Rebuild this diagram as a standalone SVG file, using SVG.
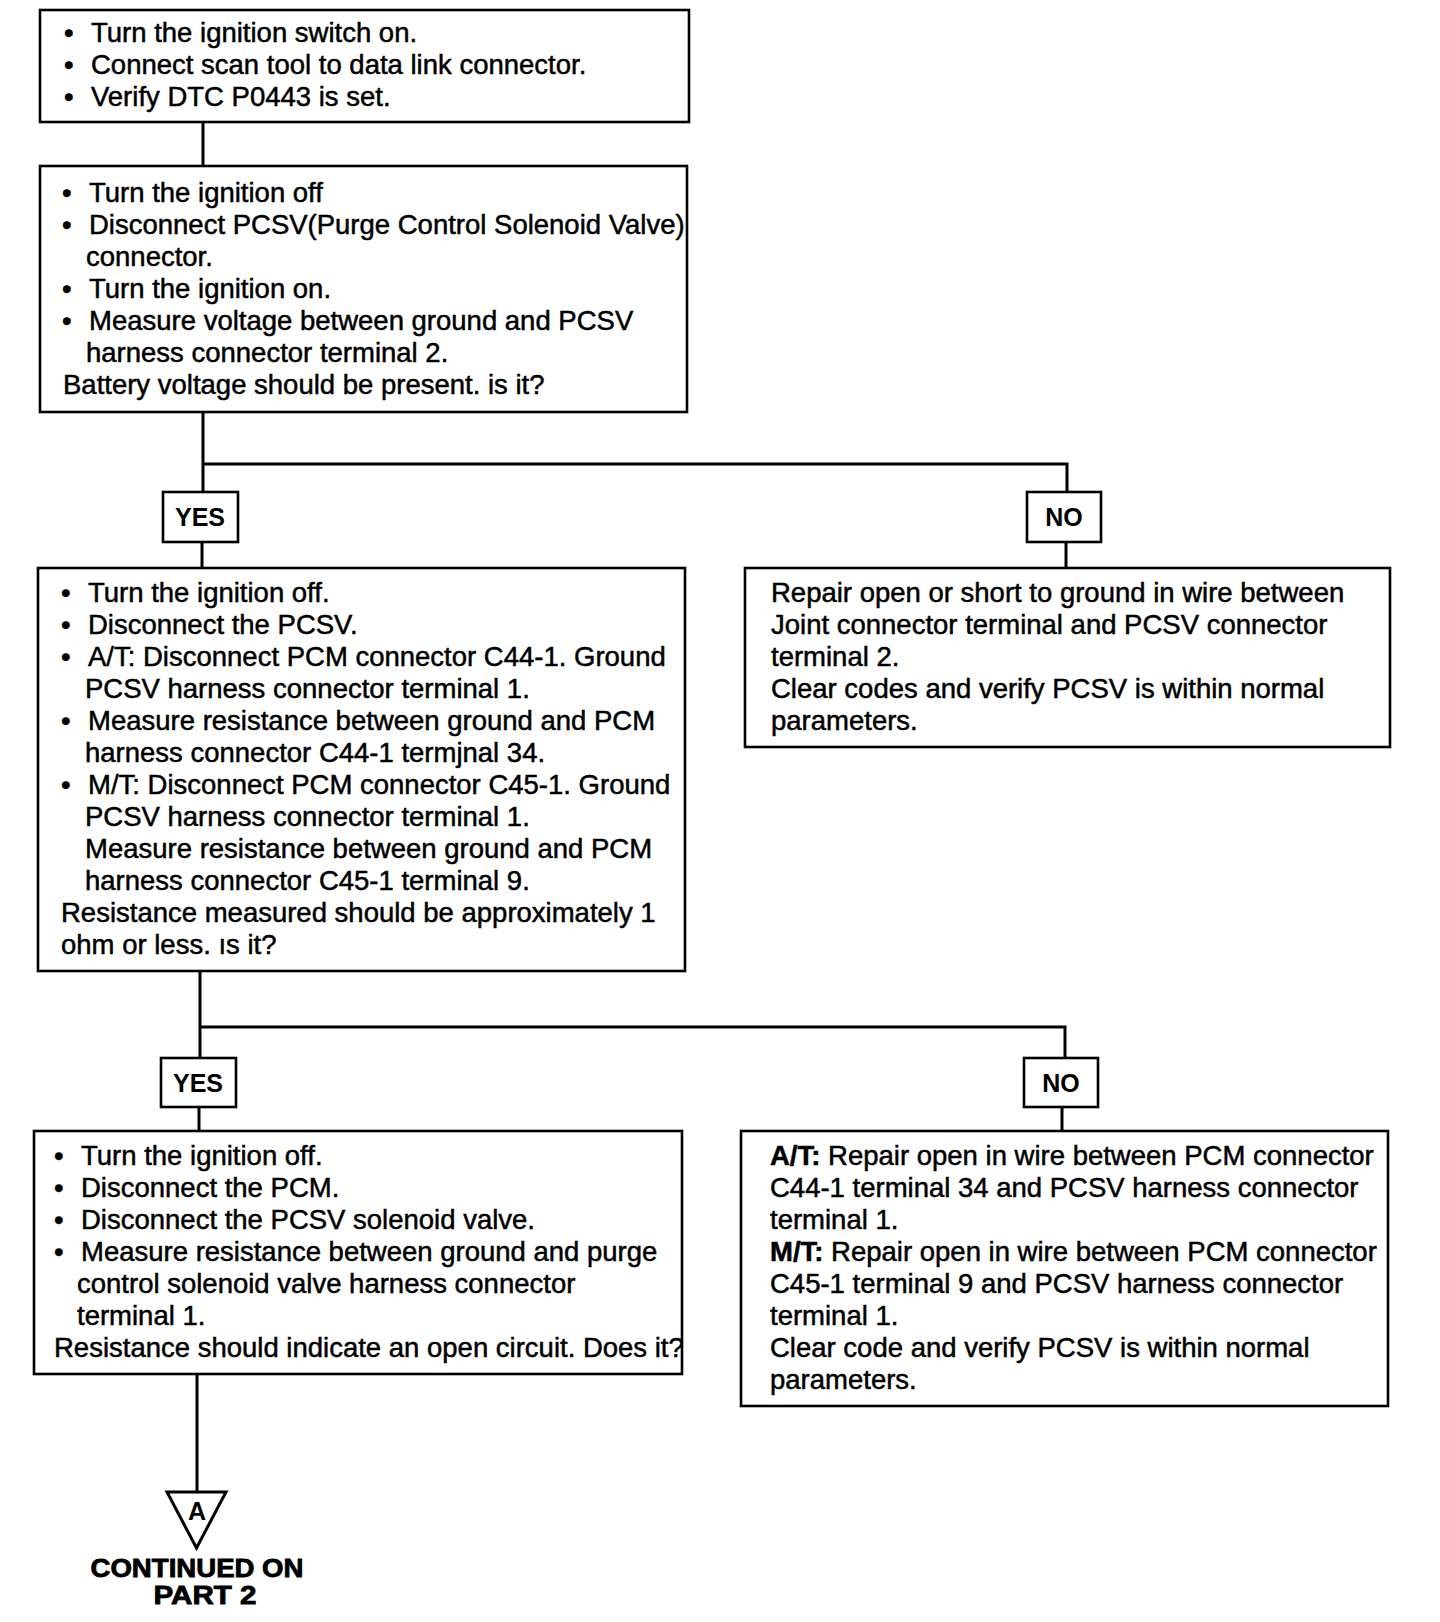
<svg xmlns="http://www.w3.org/2000/svg" width="1440" height="1622" viewBox="0 0 1440 1622">
<style>
.box{fill:#fff;stroke:#000;stroke-width:2.6}
.lbl{fill:#fff;stroke:#000;stroke-width:2.6}
.t{font-family:"Liberation Sans",Arial,sans-serif;font-size:27.5px;fill:#000;stroke:#000;stroke-width:0.5}
.b{font-weight:bold}
.yn{font-family:"Liberation Sans",Arial,sans-serif;font-size:25px;font-weight:bold;fill:#000;text-anchor:middle}
.c{font-family:"Liberation Sans",Arial,sans-serif;font-size:25px;font-weight:bold;fill:#000;text-anchor:middle;stroke:#000;stroke-width:0.8}
.ln{fill:none;stroke:#000;stroke-width:3}
</style>
<rect width="1440" height="1622" fill="#fff"/>
<g id="connectors">
<line class="ln" x1="203" y1="122" x2="203" y2="166"/>
<polyline class="ln" points="203,412 203,492"/>
<polyline class="ln" points="203,464 1067,464 1067,492"/>
<line class="ln" x1="202" y1="542" x2="202" y2="568"/>
<line class="ln" x1="1066" y1="542" x2="1066" y2="568"/>
<polyline class="ln" points="200,971 200,1058"/>
<polyline class="ln" points="200,1027 1065,1027 1065,1058"/>
<line class="ln" x1="199" y1="1107" x2="199" y2="1131"/>
<line class="ln" x1="1062" y1="1107" x2="1062" y2="1131"/>
<line class="ln" x1="197" y1="1374" x2="197" y2="1492"/>
</g>
<g id="n1">
<rect class="box" x="40" y="10" width="649" height="112"/>
<text class="t" x="64" y="42">•</text><text class="t" x="91" y="42">Turn the ignition switch on.</text>
<text class="t" x="64" y="74">•</text><text class="t" x="91" y="74">Connect scan tool to data link connector.</text>
<text class="t" x="64" y="106">•</text><text class="t" x="91" y="106">Verify DTC P0443 is set.</text>
</g>
<g id="n2">
<rect class="box" x="40" y="166" width="647" height="246"/>
<text class="t" x="62" y="202">•</text><text class="t" x="89" y="202">Turn the ignition off</text>
<text class="t" x="62" y="234">•</text><text class="t" x="89" y="234">Disconnect PCSV(Purge Control Solenoid Valve)</text>
<text class="t" x="86" y="266">connector.</text>
<text class="t" x="62" y="298">•</text><text class="t" x="89" y="298">Turn the ignition on.</text>
<text class="t" x="62" y="330">•</text><text class="t" x="89" y="330">Measure voltage between ground and PCSV</text>
<text class="t" x="86" y="362">harness connector terminal 2.</text>
<text class="t" x="63" y="394">Battery voltage should be present. is it?</text>
</g>
<g id="yes1">
<rect class="lbl" x="163" y="492" width="75" height="50"/>
<text class="yn" x="200" y="526">YES</text>
</g>
<g id="no1">
<rect class="lbl" x="1027" y="492" width="74" height="50"/>
<text class="yn" x="1064" y="526">NO</text>
</g>
<g id="n3">
<rect class="box" x="38" y="568" width="647" height="403"/>
<text class="t" x="61" y="602">•</text><text class="t" x="88" y="602">Turn the ignition off.</text>
<text class="t" x="61" y="634">•</text><text class="t" x="88" y="634">Disconnect the PCSV.</text>
<text class="t" x="61" y="666">•</text><text class="t" x="88" y="666">A/T: Disconnect PCM connector C44-1. Ground</text>
<text class="t" x="85" y="698">PCSV harness connector terminal 1.</text>
<text class="t" x="61" y="730">•</text><text class="t" x="88" y="730">Measure resistance between ground and PCM</text>
<text class="t" x="85" y="762">harness connector C44-1 termjnal 34.</text>
<text class="t" x="61" y="794">•</text><text class="t" x="88" y="794">M/T: Disconnect PCM connector C45-1. Ground</text>
<text class="t" x="85" y="826">PCSV harness connector terminal 1.</text>
<text class="t" x="85" y="858">Measure resistance between ground and PCM</text>
<text class="t" x="85" y="890">harness connector C45-1 terminal 9.</text>
<text class="t" x="61" y="922">Resistance measured should be approximately 1</text>
<text class="t" x="61" y="954">ohm or less. ıs it?</text>
</g>
<g id="n4">
<rect class="box" x="745" y="568" width="645" height="179"/>
<text class="t" x="771" y="602">Repair open or short to ground in wire between</text>
<text class="t" x="771" y="634">Joint connector terminal and PCSV connector</text>
<text class="t" x="771" y="666">terminal 2.</text>
<text class="t" x="771" y="698">Clear codes and verify PCSV is within normal</text>
<text class="t" x="771" y="730">parameters.</text>
</g>
<g id="yes2">
<rect class="lbl" x="161" y="1058" width="75" height="49"/>
<text class="yn" x="198" y="1092">YES</text>
</g>
<g id="no2">
<rect class="lbl" x="1024" y="1058" width="74" height="49"/>
<text class="yn" x="1061" y="1092">NO</text>
</g>
<g id="n5">
<rect class="box" x="34" y="1131" width="648" height="243"/>
<text class="t" x="54" y="1165">•</text><text class="t" x="81" y="1165">Turn the ignition off.</text>
<text class="t" x="54" y="1197">•</text><text class="t" x="81" y="1197">Disconnect the PCM.</text>
<text class="t" x="54" y="1229">•</text><text class="t" x="81" y="1229">Disconnect the PCSV solenoid valve.</text>
<text class="t" x="54" y="1261">•</text><text class="t" x="81" y="1261">Measure resistance between ground and purge</text>
<text class="t" x="77" y="1293">control solenoid valve harness connector</text>
<text class="t" x="77" y="1325">terminal 1.</text>
<text class="t" x="54" y="1357">Resistance should indicate an open circuit. Does it?</text>
</g>
<g id="n6">
<rect class="box" x="741" y="1131" width="647" height="275"/>
<text class="t" x="770" y="1165"><tspan class="b">A/T:</tspan> Repair open in wire between PCM connector</text>
<text class="t" x="770" y="1197">C44-1 terminal 34 and PCSV harness connector</text>
<text class="t" x="770" y="1229">terminal 1.</text>
<text class="t" x="770" y="1261"><tspan class="b">M/T:</tspan> Repair open in wire between PCM connector</text>
<text class="t" x="770" y="1293">C45-1 terminal 9 and PCSV harness connector</text>
<text class="t" x="770" y="1325">terminal 1.</text>
<text class="t" x="770" y="1357">Clear code and verify PCSV is within normal</text>
<text class="t" x="770" y="1389">parameters.</text>
</g>
<g id="offpage">
<polygon points="167,1492 226,1492 196.5,1548" fill="#fff" stroke="#000" stroke-width="3" stroke-linejoin="miter"/>
<text class="yn" x="197" y="1520" font-size="26">A</text>
<text class="c" x="197" y="1577" textLength="213" lengthAdjust="spacingAndGlyphs">CONTINUED ON</text>
<text class="c" x="205" y="1604" textLength="103" lengthAdjust="spacingAndGlyphs">PART 2</text>
</g>
</svg>
